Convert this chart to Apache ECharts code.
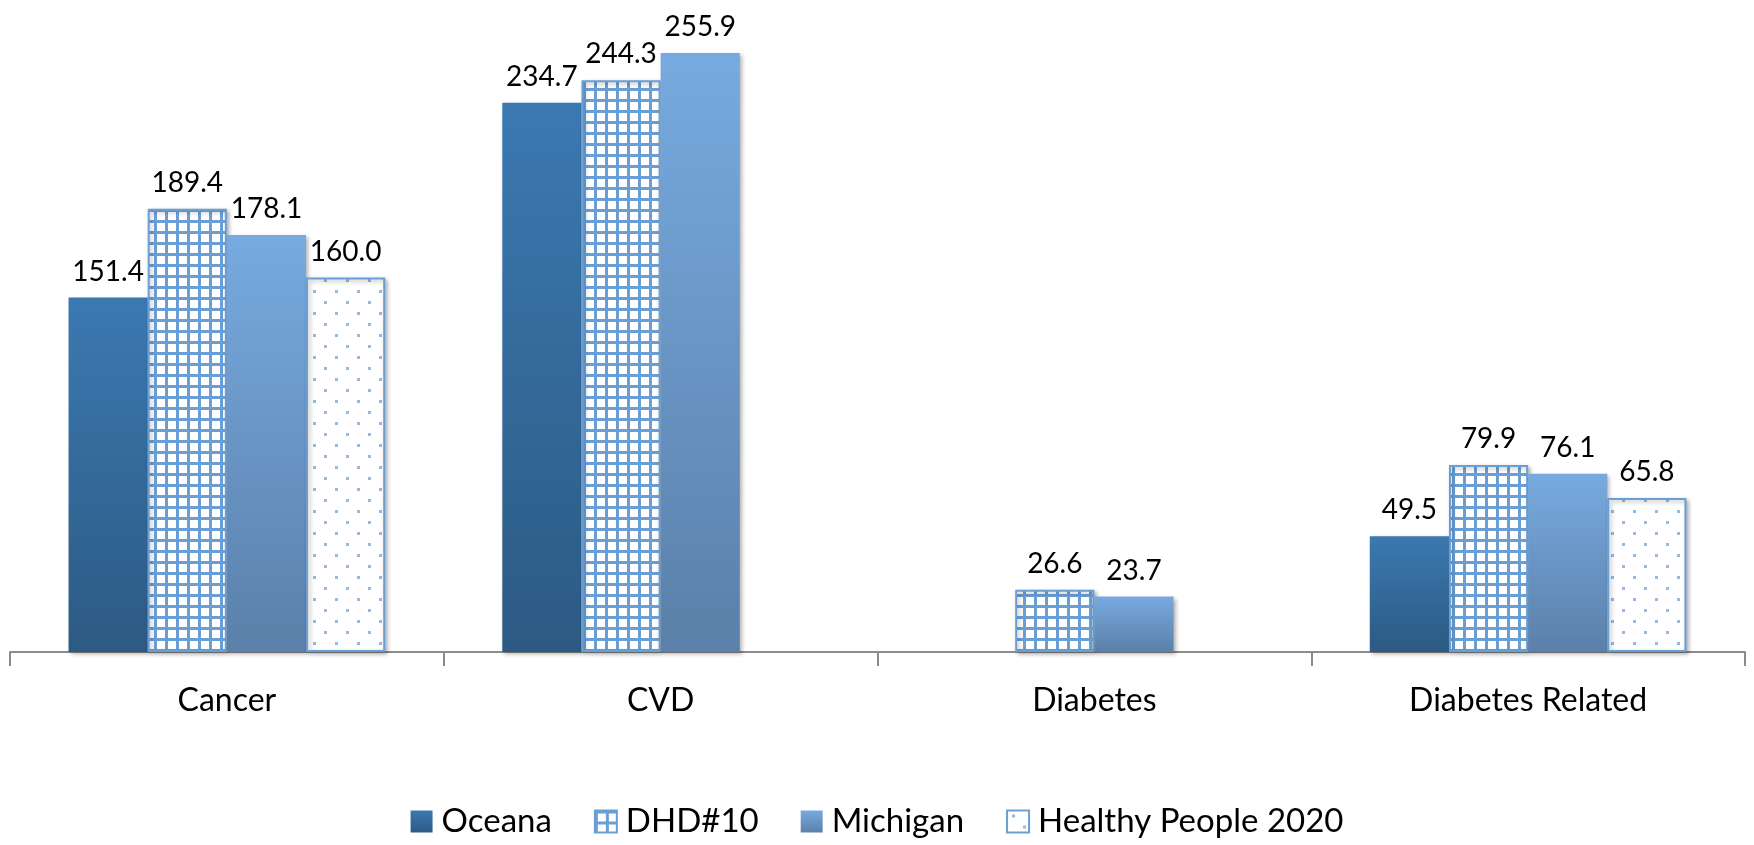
<!DOCTYPE html>
<html>
<head>
<meta charset="utf-8">
<script src="https://cdn.jsdelivr.net/npm/echarts@6/dist/echarts.min.js"></script>
<style>
  html, body { margin: 0; padding: 0; background: #fff; }
  #chart { width: 1754px; height: 845px; }
</style>
</head>
<body>
<div id="chart"></div>
<script>
// data
const categories = ['Cancer', 'CVD', 'Diabetes', 'Diabetes Related'];
const oceana = [151.4, 234.7, null, 49.5];
const dhd10 = [189.4, 244.3, 26.6, 79.9];
const michigan = [178.1, 255.9, 23.7, 76.1];
const healthyPeople = [160.0, null, null, 65.8];

// fill patterns for the hatched bars
function gridPattern() {
  const c = document.createElement('canvas');
  c.width = 11; c.height = 11;
  const ctx = c.getContext('2d');
  ctx.fillStyle = '#ffffff';
  ctx.fillRect(0, 0, 11, 11);
  ctx.fillStyle = '#6a9fd6';
  ctx.fillRect(0, 0, 11, 3);
  ctx.fillRect(0, 0, 3, 11);
  return c;
}
function dotPattern() {
  const c = document.createElement('canvas');
  c.width = 22; c.height = 22;
  const ctx = c.getContext('2d');
  ctx.fillStyle = '#ffffff';
  ctx.fillRect(0, 0, 22, 22);
  ctx.fillStyle = '#8fbbe6';
  ctx.fillRect(5, 4, 3, 3);
  ctx.fillRect(16, 15, 3, 3);
  return c;
}

const labelStyle = {
  show: true,
  position: 'top',
  distance: 12,
  fontFamily: 'Lato',
  fontSize: 28,
  color: '#000',
  formatter: p => p.value == null ? '' : p.value.toFixed(1)
};
const shadow = {
  shadowColor: 'rgba(0,0,0,0.3)',
  shadowBlur: 4,
  shadowOffsetX: 2,
  shadowOffsetY: 2
};

const chart = echarts.init(document.getElementById('chart'));
chart.setOption({
  animation: false,
  grid: { left: 10, right: 9, top: 20, bottom: 193 },
  legend: {
    bottom: 2,
    left: 'center',
    icon: 'rect',
    itemWidth: 22,
    itemHeight: 22,
    itemGap: 42,
    textStyle: { fontFamily: 'Lato', fontSize: 33, color: '#000', padding: [0, 0, 0, 4] },
    data: ['Oceana', 'DHD#10', 'Michigan', 'Healthy People 2020']
  },
  xAxis: {
    type: 'category',
    data: categories,
    axisLine: { lineStyle: { color: '#8c8c8c', width: 2 } },
    axisTick: { show: true, length: 14, lineStyle: { color: '#8c8c8c', width: 2 } },
    axisLabel: { fontFamily: 'Lato', fontSize: 32, color: '#000', margin: 33 }
  },
  yAxis: {
    type: 'value',
    min: 0,
    max: 270,
    show: false,
    splitLine: { show: false }
  },
  series: [
    {
      name: 'Oceana',
      type: 'bar',
      data: oceana,
      barGap: '0%',
      barCategoryGap: '27%',
      label: labelStyle,
      itemStyle: Object.assign({
        color: new echarts.graphic.LinearGradient(0, 0, 0, 1, [
          { offset: 0, color: '#3b79b1' },
          { offset: 1, color: '#2c5a83' }
        ])
      }, shadow)
    },
    {
      name: 'DHD#10',
      type: 'bar',
      data: dhd10,
      label: labelStyle,
      itemStyle: Object.assign({
        color: { image: gridPattern(), repeat: 'repeat' },
        borderColor: '#6a9fd6',
        borderWidth: 2
      }, shadow)
    },
    {
      name: 'Michigan',
      type: 'bar',
      data: michigan,
      label: labelStyle,
      itemStyle: Object.assign({
        color: new echarts.graphic.LinearGradient(0, 0, 0, 1, [
          { offset: 0, color: '#77aae0' },
          { offset: 1, color: '#5b80a9' }
        ])
      }, shadow)
    },
    {
      name: 'Healthy People 2020',
      type: 'bar',
      data: healthyPeople,
      label: labelStyle,
      itemStyle: Object.assign({
        color: { image: dotPattern(), repeat: 'repeat' },
        borderColor: '#6a9fd6',
        borderWidth: 2
      }, shadow)
    }
  ]
});
</script>
</body>
</html>
